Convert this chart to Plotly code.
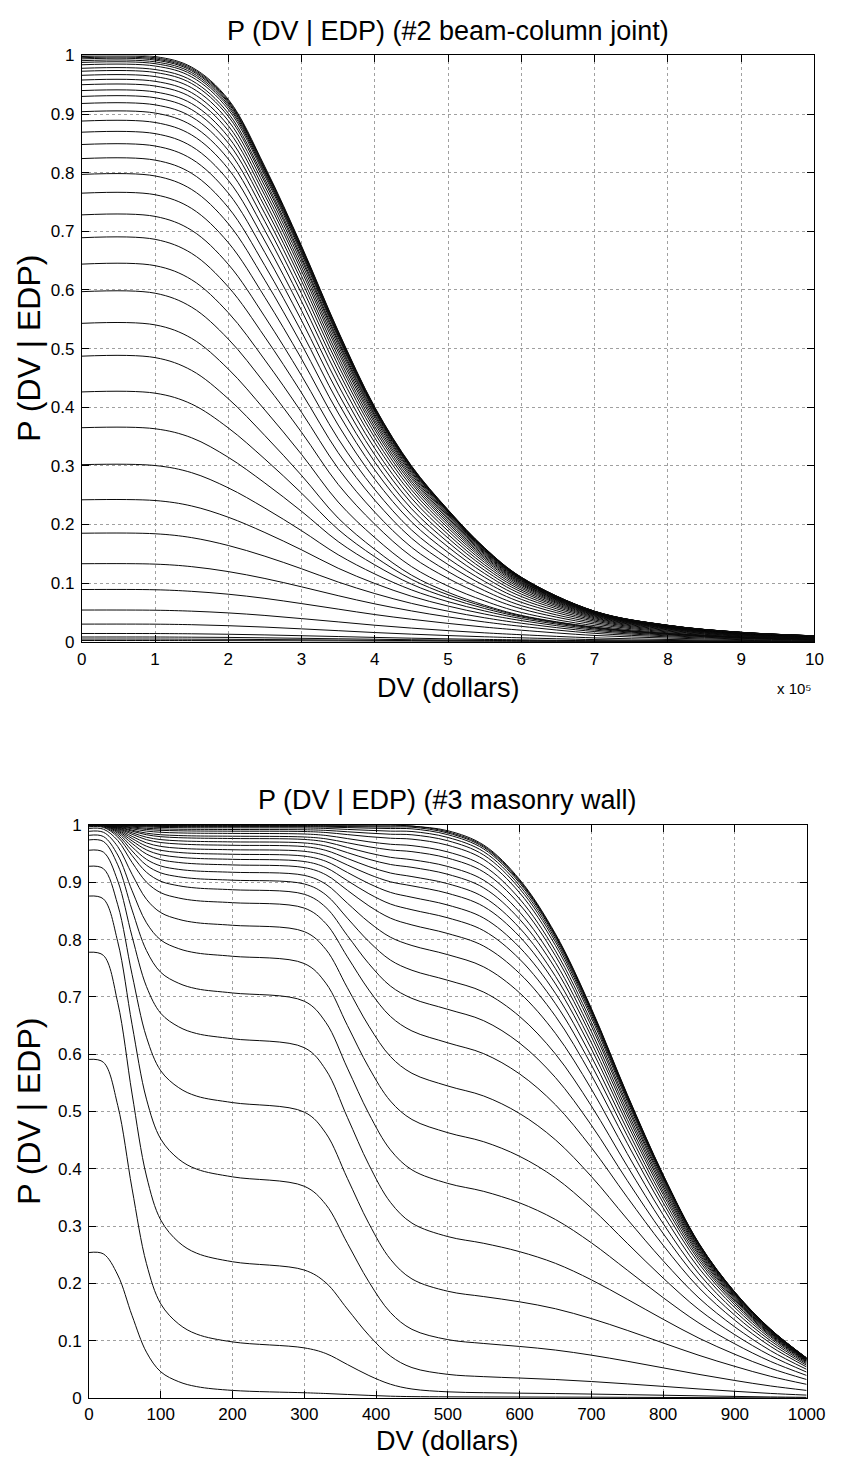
import plotly.graph_objects as go

# ---------------- data: top panel (#2 beam-column joint) ----------------
# DV in dollars; each list = P(DV > dv | EDP) for one EDP level
X_TOP = [0, 100000, 150000, 200000, 250000, 300000, 350000, 400000, 450000,
         500000, 550000, 600000, 700000, 800000, 900000, 1000000]

t01 = [.002, .002, .0019, .0018, .0017, .0015, .0013, .001, .0009, .0007, .0006, .0004, .0002, .0001, .0001, .0001]
t02 = [.0045, .0045, .0043, .0041, .0037, .0033, .0028, .0023, .0019, .0016, .0013, .001, .0005, .0003, .0002, .0001]
t03 = [.008, .008, .0077, .0073, .0066, .0058, .005, .0042, .0034, .0028, .0022, .0018, .001, .0006, .0003, .0002]
t04 = [.014, .0139, .0135, .0127, .0116, .0102, .0088, .0073, .006, .0049, .0039, .0031, .0017, .001, .0006, .0004]
t05 = [.030, .0299, .029, .0273, .0249, .0219, .0188, .0156, .0129, .0105, .0084, .0066, .0036, .0021, .0012, .0008]
t06 = [.054, .0537, .0521, .0491, .0448, .0394, .0338, .0281, .0232, .0189, .0151, .0119, .0065, .0038, .0022, .0014]
t07 = [.089, .0886, .0859, .081, .0739, .065, .0556, .0463, .0383, .0312, .0249, .0196, .0107, .0062, .0036, .0022]
t08 = [.133, .1323, .128, .1196, .1078, .0936, .0785, .0645, .0525, .0423, .0336, .0262, .0143, .0083, .0048, .003]
t09 = [.185, .1841, .1775, .1641, .1458, .1244, .1018, .0821, .0654, .052, .0408, .0315, .0173, .01, .0057, .0036]
t10 = [.242, .2408, .2315, .2123, .1862, .1567, .1253, .0993, .0775, .0608, .0472, .036, .0197, .0114, .0065, .0041]
t11 = [.302, .3005, .2883, .2624, .2278, .1893, .1483, .1155, .0884, .0683, .0524, .0395, .0217, .0124, .0071, .0044]
t12 = [.365, .3632, .3478, .3145, .2706, .2224, .1708, .131, .0982, .0749, .0566, .0421, .0232, .0132, .0076, .0047]
t13 = [.426, .4239, .4053, .3646, .3114, .2534, .1914, .1448, .1064, .08, .0598, .0438, .0242, .0137, .0078, .0049]
t14 = [.487, .4846, .4627, .4144, .3515, .2836, .2109, .1574, .1136, .0842, .0621, .0449, .0249, .014, .008, .005]
t15 = [.543, .5404, .5173, .4651, .3951, .3194, .2382, .1775, .1282, .0948, .0695, .0498, .0273, .0152, .0087, .0054]
t16 = [.597, .5944, .5706, .5162, .4403, .3572, .2683, .2003, .1454, .1079, .0787, .0561, .0301, .0167, .0096, .006]
t17 = [.644, .6414, .6173, .5613, .4804, .3912, .2955, .2209, .1612, .1197, .0869, .0616, .0326, .018, .0103, .0064]
t18 = [.689, .6863, .6623, .6052, .5195, .4244, .3223, .2413, .1767, .1315, .0952, .0672, .035, .0193, .011, .0069]
t19 = [.728, .7254, .7016, .6437, .554, .4538, .3462, .2595, .1907, .1421, .1027, .0722, .0371, .0204, .0116, .0073]
t20 = [.765, .7624, .7389, .6807, .5873, .4823, .3695, .2772, .2044, .1523, .1098, .077, .0391, .0214, .0122, .0077]
t21 = [.797, .7944, .7713, .713, .6165, .5072, .3901, .2929, .2164, .1616, .1162, .0812, .0408, .0223, .0128, .008]
t22 = [.824, .8214, .7988, .7404, .6413, .5287, .4077, .3064, .2269, .1695, .1217, .0849, .0423, .0231, .0132, .0082]
t23 = [.848, .8455, .8233, .7651, .6636, .5479, .4237, .3186, .2364, .1767, .1267, .0881, .0436, .0237, .0136, .0085]
t24 = [.869, .8666, .8448, .7868, .6834, .5649, .4378, .3294, .2448, .183, .131, .0911, .0448, .0243, .0139, .0087]
t25 = [.888, .8856, .8643, .8065, .7013, .5805, .4507, .3393, .2525, .1888, .1351, .0936, .0458, .0249, .0142, .0089]
t26 = [.904, .9017, .8807, .8232, .7166, .5937, .4618, .3477, .2591, .1939, .1386, .096, .0466, .0253, .0145, .009]
t27 = [.918, .9157, .8951, .8379, .73, .6053, .4715, .3552, .2649, .1982, .1416, .0979, .0475, .0257, .0147, .0092]
t28 = [.93, .9278, .9075, .8505, .7416, .6154, .4799, .3616, .2699, .2021, .1442, .0997, .0481, .026, .0149, .0093]
t29 = [.94, .9377, .9178, .861, .7512, .6238, .4869, .367, .2741, .2053, .1464, .1011, .0487, .0263, .015, .0094]
t30 = [.95, .9478, .9282, .8716, .761, .6322, .494, .3724, .2784, .2086, .1487, .1026, .0492, .0266, .0152, .0095]
t31 = [.958, .9558, .9364, .8801, .7687, .639, .4997, .3768, .2818, .2111, .1505, .1037, .0496, .0268, .0153, .0096]
t32 = [.966, .9639, .9447, .8886, .7766, .6458, .5054, .3812, .2852, .2137, .1523, .105, .0501, .027, .0155, .0097]
t33 = [.973, .9709, .952, .8961, .7834, .6518, .5104, .385, .2882, .216, .1539, .106, .0505, .0272, .0156, .0097]
t34 = [.978, .9759, .9572, .9014, .7883, .656, .514, .3878, .2905, .2177, .155, .1067, .0508, .0274, .0156, .0098]
t35 = [.984, .9819, .9633, .9078, .7942, .6612, .5184, .391, .293, .2197, .1563, .1076, .0511, .0276, .0157, .0098]
t36 = [.988, .9859, .9675, .9121, .7981, .6646, .5213, .3933, .2947, .221, .1572, .1081, .0514, .0277, .0158, .0099]
t37 = [.991, .989, .9707, .9154, .8011, .6672, .5235, .395, .296, .222, .158, .1087, .0515, .0277, .0159, .0099]
t38 = [.994, .992, .9737, .9186, .804, .6699, .5256, .3966, .2974, .223, .1586, .1091, .0517, .0278, .0159, .0099]
t39 = [.996, .994, .9758, .9207, .806, .6716, .5272, .3978, .2983, .2236, .1591, .1094, .0518, .0279, .0159, .01]
t40 = [.998, .996, .978, .923, .808, .6735, .5289, .3992, .2993, .2245, .1597, .1098, .0519, .0279, .016, .01]
t41 = [1.0, .998, .98, .925, .81, .675, .53, .40, .30, .225, .16, .11, .052, .028, .016, .01]

# ---------------- data: bottom panel (#3 masonry wall) ----------------
X_BOT = [0, 20, 40, 60, 80, 100, 125, 150, 200, 300, 330, 360, 390, 420, 450,
         500, 550, 600, 650, 700, 750, 800, 850, 900, 950, 1000]

b01 = [.254, .2516, .2148, .1438, .0801, .0458, .0286, .02, .0134, .0093, .008, .0063, .0047, .0033, .0026, .0022, .002, .0019, .0017, .0016, .0013, .0011, .0009, .0006, .0004, .0003]
b02 = [.591, .586, .5107, .3651, .2346, .1643, .1292, .1116, .098, .0876, .0778, .0586, .0394, .0242, .0158, .0109, .0094, .0086, .0079, .007, .006, .005, .0039, .0029, .002, .0013]
b03 = [.778, .7725, .69, .5305, .3875, .3105, .272, .2528, .2379, .2234, .2013, .1554, .1096, .0733, .0532, .0414, .0374, .035, .0324, .0289, .0248, .0204, .0159, .0118, .0081, .0052]
b04 = [.876, .871, .7962, .6515, .5217, .4519, .4169, .3995, .386, .3696, .3377, .2702, .2028, .1494, .1199, .102, .0953, .0901, .0838, .0749, .0643, .0528, .0413, .0307, .0211, .0134]
b05 = [.928, .9238, .8608, .739, .6298, .571, .5416, .5269, .5156, .499, .4621, .3834, .3046, .2423, .2079, .1864, .1771, .168, .1559, .1387, .1182, .0962, .0746, .0553, .0379, .024]
b06 = [.956, .9527, .9024, .8053, .7182, .6713, .6478, .6361, .627, .6114, .5727, .4899, .4071, .3416, .3053, .2818, .2701, .2555, .2351, .2064, .1725, .1376, .1045, .0764, .0519, .0324]
b07 = [.974, .9713, .9305, .8516, .7809, .7428, .7238, .7142, .7069, .6925, .6555, .5758, .4962, .4331, .3982, .3746, .3607, .3407, .3116, .271, .2233, .1753, .1309, .0946, .0638, .0395]
b08 = [.982, .9799, .9476, .8853, .8294, .7993, .7842, .7767, .7709, .7582, .724, .6503, .5767, .5183, .4861, .4631, .4473, .4219, .3842, .3316, .2702, .2095, .1543, .1105, .074, .0454]
b09 = [.989, .9873, .9623, .9139, .8704, .8471, .8354, .8295, .825, .8139, .7829, .716, .649, .596, .5667, .5446, .5271, .4966, .4506, .3867, .3123, .2397, .1746, .1241, .0826, .0502]
b10 = [.994, .9927, .9729, .9346, .9003, .8818, .8726, .8679, .8644, .855, .8281, .77, .712, .666, .6406, .6199, .601, .5657, .5118, .4372, .3505, .2668, .1924, .1358, .09, .0543]
b11 = [.997, .9959, .9791, .9466, .9175, .9018, .894, .89, .887, .8791, .8563, .8071, .7579, .719, .6974, .6783, .6585, .6195, .5593, .4762, .3797, .2873, .2057, .1444, .0954, .0573]
b12 = [.998, .997, .9826, .9548, .9298, .9164, .9097, .9063, .9037, .8971, .8782, .8374, .7966, .7643, .7465, .729, .7084, .666, .6003, .5098, .4048, .3047, .2168, .1516, .0998, .0597]
b13 = [.999, .9982, .9857, .9617, .9401, .9285, .9226, .9197, .9175, .9121, .8967, .8636, .8304, .8042, .7897, .7737, .7524, .7071, .6364, .5393, .4267, .3198, .2265, .1578, .1036, .0616]
b14 = [.9993, .9986, .9881, .9677, .9494, .9395, .9346, .9322, .9303, .9257, .9132, .8861, .8589, .8375, .8256, .8106, .7887, .741, .6663, .5636, .4447, .3322, .2343, .1627, .1067, .0632]
b15 = [.9996, .999, .9899, .9723, .9566, .9481, .9438, .9417, .9401, .9363, .9257, .9029, .8801, .8621, .8521, .838, .8156, .766, .6882, .5814, .4579, .3411, .2399, .1663, .1088, .0643]
b16 = [.9998, .9993, .9915, .9765, .963, .9558, .9521, .9503, .9489, .9457, .9367, .9172, .8978, .8824, .8739, .8603, .8376, .7865, .7063, .5961, .4686, .3485, .2445, .1692, .1105, .0653]
b17 = [1.0, .9996, .993, .9802, .9688, .9626, .9595, .958, .9568, .9541, .9465, .9302, .9138, .9009, .8938, .8808, .8577, .8053, .7227, .6094, .4785, .3553, .2487, .1718, .1122, .0661]
b18 = [1.0, .9996, .9942, .9838, .9744, .9694, .9669, .9656, .9646, .9623, .9557, .9416, .9274, .9162, .91, .8975, .8741, .8204, .7359, .6202, .4863, .3606, .252, .1739, .1134, .0667]
b19 = [1.0, .9997, .9952, .9865, .9787, .9745, .9724, .9714, .9705, .9687, .9633, .9518, .9402, .9311, .9261, .914, .8903, .8355, .7492, .6309, .4942, .3659, .2553, .1759, .1146, .0673]
b20 = [1.0, .9998, .9962, .9892, .983, .9796, .9779, .9771, .9764, .9748, .9704, .9608, .9512, .9436, .9394, .9276, .9037, .848, .7601, .6398, .5007, .3703, .258, .1776, .1156, .0678]
b21 = [1.0, .9998, .9968, .991, .9858, .983, .9816, .9809, .9804, .9791, .9759, .969, .962, .9565, .9535, .9422, .918, .8614, .7718, .6492, .5075, .3749, .2608, .1793, .1166, .0683]
b22 = [1.0, .9999, .9976, .9933, .9894, .9873, .9862, .9857, .9853, .9843, .9818, .9763, .9707, .9664, .964, .953, .9286, .8711, .7804, .6561, .5126, .3783, .2628, .1806, .1174, .0687]
b23 = [1.0, .9999, .9982, .995, .9922, .9907, .9899, .9895, .9892, .9886, .9869, .9833, .9797, .9769, .9753, .9647, .94, .8818, .7897, .6637, .5182, .382, .2651, .182, .1182, .0692]
b24 = [1.0, .9999, .9987, .9964, .9943, .9932, .9926, .9924, .9921, .9917, .9906, .9882, .9858, .9839, .9829, .9725, .9476, .8889, .796, .6687, .5218, .3846, .2667, .183, .1188, .0694]
b25 = [1.0, 1.0, .9992, .9978, .9965, .9958, .9954, .9952, .9951, .9948, .994, .9923, .9907, .9893, .9886, .9783, .9534, .8942, .8007, .6724, .5244, .3863, .2677, .1837, .1192, .0696]
b26 = [1.0, 1.0, .9995, .9987, .9979, .9975, .9972, .9971, .9971, .9969, .9964, .9955, .9945, .9938, .9933, .9831, .9582, .8987, .8045, .6755, .5267, .3878, .2686, .1842, .1195, .0697]
b27 = [1.0, 1.0, .9997, .9991, .9986, .9983, .9982, .9981, .998, .9979, .9977, .9972, .9968, .9964, .9962, .986, .9611, .9014, .8068, .6773, .5279, .3884, .2689, .1843, .1195, .0697]
b28 = [1.0, 1.0, .9998, .9995, .9993, .9992, .9991, .999, .999, .999, .9988, .9986, .9984, .9982, .9981, .988, .9631, .9032, .8084, .6786, .5289, .3892, .2695, .1846, .1198, .0699]
b29 = [1.0, 1.0, 1.0, 1.0, 1.0, 1.0, 1.0, 1.0, 1.0, 1.0, 1.0, 1.0, 1.0, 1.0, .998, .99, .965, .905, .81, .68, .53, .39, .27, .185, .12, .07]

TOP_CURVES = [t01, t02, t03, t04, t05, t06, t07, t08, t09, t10, t11, t12, t13, t14,
              t15, t16, t17, t18, t19, t20, t21, t22, t23, t24, t25, t26, t27, t28,
              t29, t30, t31, t32, t33, t34, t35, t36, t37, t38, t39, t40, t41]
BOT_CURVES = [b01, b02, b03, b04, b05, b06, b07, b08, b09, b10, b11, b12, b13, b14,
              b15, b16, b17, b18, b19, b20, b21, b22, b23, b24, b25, b26, b27, b28, b29]

# tick labels
TOP_XTICKS = [0, 100000, 200000, 300000, 400000, 500000, 600000, 700000, 800000, 900000, 1000000]
TOP_XTEXT = ["0", "1", "2", "3", "4", "5", "6", "7", "8", "9", "10"]
BOT_XTICKS = [0, 100, 200, 300, 400, 500, 600, 700, 800, 900, 1000]
BOT_XTEXT = ["0", "100", "200", "300", "400", "500", "600", "700", "800", "900", "1000"]
Y_TICKS = [0, 0.1, 0.2, 0.3, 0.4, 0.5, 0.6, 0.7, 0.8, 0.9, 1.0]
Y_TEXT = ["0", "0.1", "0.2", "0.3", "0.4", "0.5", "0.6", "0.7", "0.8", "0.9", "1"]

TITLE_TOP = "P (DV | EDP) (#2 beam-column joint)"
TITLE_BOT = "P (DV | EDP) (#3 masonry wall)"
XLABEL = "DV (dollars)"
YLABEL = "P (DV | EDP)"
XSCALE = "x 10⁵"

# ---------------- figure ----------------
W, H = 847, 1468
FONT = "Liberation Sans, Arial, Helvetica, sans-serif"
LINE = dict(color="#0a0a0a", width=1, shape="spline", smoothing=1.0)

fig = go.Figure()
for ys in TOP_CURVES:
    fig.add_trace(go.Scatter(x=X_TOP, y=ys, mode="lines", line=LINE,
                             xaxis="x", yaxis="y", hoverinfo="skip", showlegend=False))
for ys in BOT_CURVES:
    fig.add_trace(go.Scatter(x=X_BOT, y=ys, mode="lines", line=LINE,
                             xaxis="x2", yaxis="y2", hoverinfo="skip", showlegend=False))

def px_x(p):
    return p / W

def px_y(p):
    return 1 - p / H

common = dict(showline=True, linecolor="black", linewidth=1, mirror="ticks",
              ticks="inside", ticklen=7, tickcolor="black", tickwidth=1,
              showgrid=True, gridcolor="#a0a0a0", griddash="dot", gridwidth=1,
              zeroline=False, tickfont=dict(family=FONT, size=17, color="black"))

# plot areas in pixels
TOP_L, TOP_R, TOP_T, TOP_B = 79, 833, 47, 641
BOT_L, BOT_R, BOT_T, BOT_B = 86.5, 825, 826.7, 1407.3

fig.update_layout(
    width=W, height=H, autosize=False,
    margin=dict(l=0, r=0, t=0, b=0),
    paper_bgcolor="white", plot_bgcolor="white",
    font=dict(family=FONT, color="black"),
    xaxis=dict(domain=[px_x(TOP_L), px_x(TOP_R)], range=[0, 1000000], anchor="y",
               tickvals=TOP_XTICKS, ticktext=TOP_XTEXT, ticklabelstandoff=2, **common),
    yaxis=dict(domain=[px_y(TOP_B), px_y(TOP_T)], range=[0, 1], anchor="x",
               tickvals=Y_TICKS, ticktext=Y_TEXT, ticklabelstandoff=3, **common),
    xaxis2=dict(domain=[px_x(BOT_L), px_x(BOT_R)], range=[0, 1000], anchor="y2",
                tickvals=BOT_XTICKS, ticktext=BOT_XTEXT, ticklabelstandoff=1, **common),
    yaxis2=dict(domain=[px_y(BOT_B), px_y(BOT_T)], range=[0, 1], anchor="x2",
                tickvals=Y_TICKS, ticktext=Y_TEXT, ticklabelstandoff=3, **common),
)

def label(text, xp, yp, size, angle=0):
    fig.add_annotation(text=text, x=px_x(xp), y=px_y(yp), xref="paper", yref="paper",
                       showarrow=False, xanchor="center", yanchor="middle",
                       textangle=angle, font=dict(family=FONT, size=size, color="black"))

label(TITLE_TOP, (TOP_L + TOP_R) / 2, 22, 27)
label(XLABEL, (TOP_L + TOP_R) / 2, 688, 27)
label(XSCALE, 813, 688, 15)
label(YLABEL, 24, (TOP_T + TOP_B) / 2, 32, angle=-90)

label(TITLE_BOT, (BOT_L + BOT_R) / 2, 801, 27)
label(XLABEL, (BOT_L + BOT_R) / 2, 1451, 27)
label(YLABEL, 24, (BOT_T + BOT_B) / 2, 32, angle=-90)

fig.write_html("out.html")
